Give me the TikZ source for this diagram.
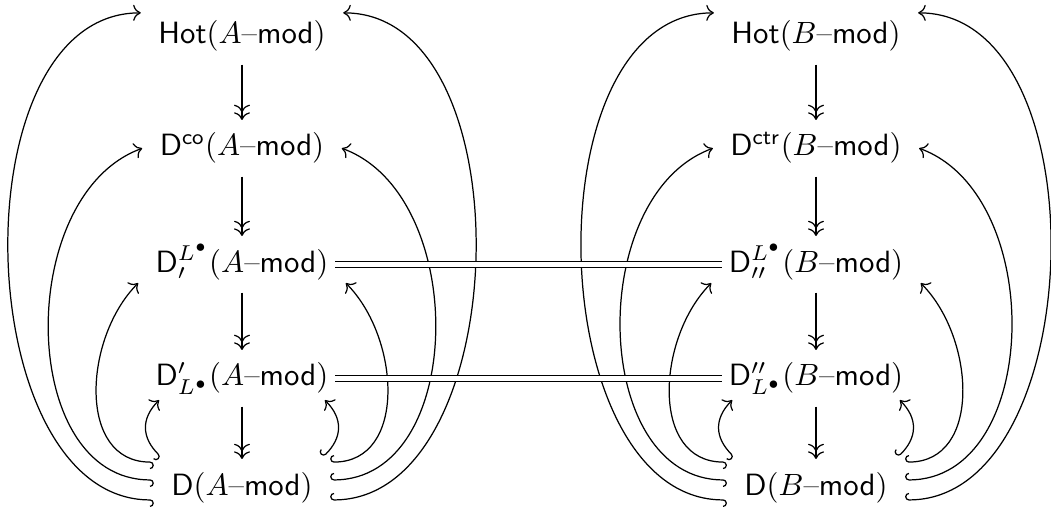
\documentclass[tikz,border=0pt]{standalone}
\usepackage{amsmath,amssymb}
\usetikzlibrary{arrows.meta}
\newcommand{\Amod}{(A\text{--}\mathsf{mod})}
\newcommand{\Bmod}{(B\text{--}\mathsf{mod})}
\begin{document}
\begin{tikzpicture}[>={Computer Modern Rightarrow},
  obj/.style={anchor=base,inner xsep=5.5pt,inner ysep=4pt,text height=7.5pt,text depth=2.5pt},
  inc/.style={{Hooks[right]}->},
  epi/.style={->>},
  eq/.style={double,double distance=1.6pt}]
\useasboundingbox (0,0) rectangle (12,5.846);
\node[obj] (hA) at (2.763,5.344) {$\mathsf{Hot}\Amod$};
\node[obj] (cA) at (2.763,4.065) {$\mathsf{D}^{\mathsf{co}}\Amod$};
\node[obj] (uA) at (2.763,2.740) {$\mathsf{D}^{L^\bullet}_{\prime}\Amod$};
\node[obj] (lA) at (2.763,1.439) {$\mathsf{D}'_{L^\bullet}\Amod$};
\node[obj] (dA) at (2.763,0.194) {$\mathsf{D}\Amod$};
\node[obj] (hB) at (9.317,5.344) {$\mathsf{Hot}\Bmod$};
\node[obj] (cB) at (9.317,4.065) {$\mathsf{D}^{\mathsf{ctr}}\Bmod$};
\node[obj] (uB) at (9.317,2.740) {$\mathsf{D}^{L^\bullet}_{\prime\prime}\Bmod$};
\node[obj] (lB) at (9.317,1.439) {$\mathsf{D}''_{L^\bullet}\Bmod$};
\node[obj] (dB) at (9.317,0.194) {$\mathsf{D}\Bmod$};
\foreach \m in {A,B}{
  \draw[epi] (h\m) -- (c\m);
  \draw[epi] (c\m) -- (u\m);
  \draw[epi] (u\m) -- (l\m);
  \draw[epi] (l\m) -- (d\m);
  \draw[inc] ([yshift=-4.1pt]d\m.west) to[out=180,in=180,looseness=0.97] ([yshift=7.6pt]h\m.west);
  \draw[inc] ([yshift=2.4pt]d\m.west) to[out=180,in=200,looseness=1.05] (c\m.west);
  \draw[inc] ([yshift=8.2pt]d\m.west) to[out=180,in=225,looseness=1.1] ([yshift=-6.1pt]u\m.west);
  \draw[inc] ([shift={(2.3pt,9.9pt)}]d\m.west) to[out=135,in=225,looseness=1.2] ([shift={(6.8pt,-7.1pt)}]l\m.west);
  \draw[inc] ([yshift=-4.1pt]d\m.east) to[out=0,in=0,looseness=0.97] ([yshift=7.6pt]h\m.east);
  \draw[inc] ([yshift=2.4pt]d\m.east) to[out=0,in=340,looseness=1.05] (c\m.east);
  \draw[inc] ([yshift=8.2pt]d\m.east) to[out=0,in=315,looseness=1.1] ([yshift=-6.1pt]u\m.east);
  \draw[inc] ([shift={(-2.3pt,9.9pt)}]d\m.east) to[out=45,in=315,looseness=1.2] ([shift={(-6.8pt,-7.1pt)}]l\m.east);
}
\draw[eq] ([xshift=-3.5pt]uA.east) -- ([xshift=3.5pt]uB.west);
\draw[eq] ([xshift=-3.5pt]lA.east) -- ([xshift=3.5pt]lB.west);
\end{tikzpicture}
\end{document}
